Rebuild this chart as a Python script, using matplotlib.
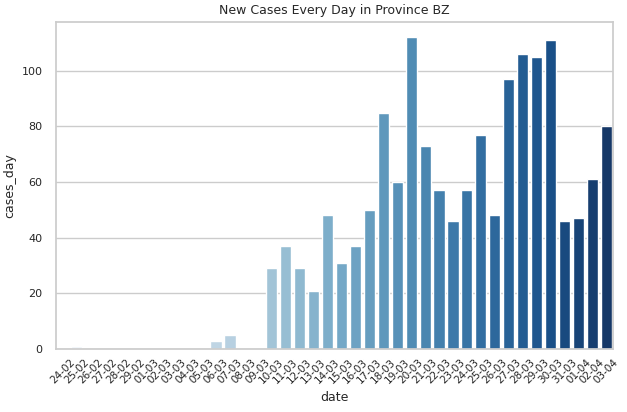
import matplotlib
matplotlib.use("Agg")
import matplotlib.pyplot as plt
import seaborn as sns
import pandas as pd

dates = ["24-02","25-02","26-02","27-02","28-02","29-02",
         "01-03","02-03","03-03","04-03","05-03","06-03","07-03","08-03","09-03",
         "10-03","11-03","12-03","13-03","14-03","15-03","16-03","17-03","18-03",
         "19-03","20-03","21-03","22-03","23-03","24-03","25-03","26-03","27-03",
         "28-03","29-03","30-03","31-03","01-04","02-04","03-04"]
cases_day = [0,1,0,0,0,0,
             0,0,0,0,0,3,5,0,0,
             29,37,29,21,48,31,37,50,85,
             60,112,73,57,46,57,77,48,97,
             106,105,111,46,47,61,80]

sns.set_theme(style="whitegrid")
df = pd.DataFrame({"date": dates, "cases_day": cases_day})

fig, ax = plt.subplots(figsize=(6.27, 4.12), dpi=100)
sns.barplot(data=df, x="date", y="cases_day", hue="date",
            palette="Blues", legend=False, ax=ax)
ax.set_title("New Cases Every Day in Province BZ", fontsize=9)
ax.set_xlabel("date", fontsize=9)
ax.set_ylabel("cases_day", fontsize=9)
ax.tick_params(axis="y", labelsize=8)
ax.tick_params(axis="x", labelsize=7.5, rotation=45, pad=0)
for lbl in ax.get_xticklabels():
    lbl.set_ha("center")
fig.subplots_adjust(left=0.089, right=0.978, top=0.947, bottom=0.153)
fig.savefig("out.png", dpi=100)
